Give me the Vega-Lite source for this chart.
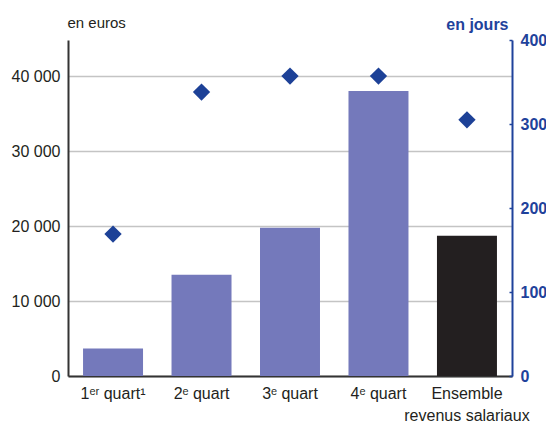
{
  "$schema": "https://vega.github.io/schema/vega-lite/v6.json",
  "width": 444,
  "height": 336,
  "autosize": {"type": "none"},
  "padding": {"left": 68, "top": 40, "right": 34, "bottom": 51},
  "background": "white",
  "config": {
    "view": {"stroke": null},
    "font": "Liberation Sans",
    "axis": {"labelFont": "Liberation Sans", "titleFont": "Liberation Sans"}
  },
  "data": {
    "values": [
      {"cat": "1ᵉʳ quart¹", "groupe": "quart", "euros": 3660, "jours": 169},
      {"cat": "2ᵉ quart", "groupe": "quart", "euros": 13500, "jours": 338},
      {"cat": "3ᵉ quart", "groupe": "quart", "euros": 19780, "jours": 357},
      {"cat": "4ᵉ quart", "groupe": "quart", "euros": 38000, "jours": 357},
      {"cat": "Ensemble|revenus salariaux", "groupe": "ensemble", "euros": 18700, "jours": 305}
    ]
  },
  "encoding": {
    "x": {
      "field": "cat",
      "type": "nominal",
      "sort": null,
      "scale": {"paddingInner": 0.322, "paddingOuter": 0.17},
      "axis": {
        "title": null,
        "labelAngle": 0,
        "labelExpr": "split(datum.label, '|')",
        "labelFontSize": 16,
        "labelColor": "#231f20",
        "labelPadding": 9,
        "labelLineHeight": 22,
        "ticks": false,
        "domainColor": "#333333",
        "domainWidth": 2
      }
    }
  },
  "layer": [
    {
      "mark": {"type": "bar"},
      "encoding": {
        "y": {
          "field": "euros",
          "type": "quantitative",
          "scale": {"domain": [0, 44800], "nice": false},
          "axis": {
            "orient": "left",
            "values": [0, 10000, 20000, 30000, 40000],
            "labelExpr": "replace(format(datum.value, ','), ',', ' ')",
            "labelFontSize": 16,
            "labelColor": "#231f20",
            "labelPadding": 8,
            "ticks": false,
            "grid": true,
            "gridColor": "#c4c4c4",
            "gridWidth": 1.5,
            "domainColor": "#333333",
            "domainWidth": 2,
            "title": "en euros",
            "titleAngle": 0,
            "titleAlign": "left",
            "titleBaseline": "alphabetic",
            "titleX": -1,
            "titleY": -13,
            "titleFontSize": 15,
            "titleFontWeight": "normal",
            "titleColor": "#231f20"
          }
        },
        "color": {
          "field": "groupe",
          "type": "nominal",
          "scale": {"domain": ["quart", "ensemble"], "range": ["#7479bb", "#231f20"]},
          "legend": null
        }
      }
    },
    {
      "mark": {"type": "point", "shape": "diamond", "filled": true, "size": 300, "color": "#1d4197", "opacity": 1},
      "encoding": {
        "y": {
          "field": "jours",
          "type": "quantitative",
          "scale": {"domain": [0, 400], "nice": false},
          "axis": {
            "orient": "right",
            "values": [0, 100, 200, 300, 400],
            "labelFontSize": 16,
            "labelFontWeight": "bold",
            "labelColor": "#1f429b",
            "labelPadding": 11,
            "tickSize": -3,
            "tickColor": "#1f429b",
            "tickWidth": 1.5,
            "grid": false,
            "domainColor": "#1f429b",
            "domainWidth": 2,
            "title": "en jours",
            "titleAngle": 0,
            "titleAlign": "right",
            "titleBaseline": "alphabetic",
            "titleX": -4,
            "titleY": -11,
            "titleFontSize": 16,
            "titleFontWeight": "bold",
            "titleColor": "#1f429b"
          }
        }
      }
    }
  ],
  "resolve": {"scale": {"y": "independent", "color": "independent"}}
}
